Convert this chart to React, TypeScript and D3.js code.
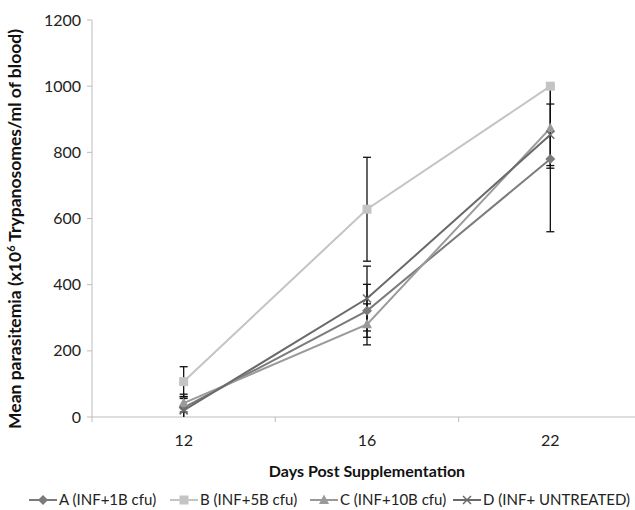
import React from "react";
import * as d3 from "d3";

const days = ["12", "16", "22"];
const seriesNames = [
  "A (INF+1B cfu)",
  "B (INF+5B cfu)",
  "C (INF+10B cfu)",
  "D (INF+ UNTREATED)",
];
const valuesA = [28, 321, 780];
const valuesB = [107, 628, 1000];
const valuesC = [42, 280, 873];
const valuesD = [20, 358, 853];
const errorsA = [33, 80, 220];
const errorsB = [45, 157, 0];
const errorsC = [27, 62, 121];
const errorsD = [36, 98, 93];
const yTicks = [0, 200, 400, 600, 800, 1000, 1200];

const seriesColors = ["#7b7b7b", "#c4c4c4", "#9a9a9a", "#6a6a6a"];
const markerTypes = ["diamond", "square", "triangle", "cross"];

const width = 635;
const height = 510;
const left = 92;
const top = 20;
const bottom = 417;
const font = "Lato, 'Open Sans', sans-serif";

function Marker({ type, x, y, color }: { type: string; x: number; y: number; color: string }) {
  if (type === "square") {
    return <rect x={x - 4.5} y={y - 4.5} width={9} height={9} fill={color} />;
  }
  if (type === "diamond") {
    return <path d={`M${x},${y - 5}L${x + 5},${y}L${x},${y + 5}L${x - 5},${y}Z`} fill={color} />;
  }
  if (type === "triangle") {
    return <path d={`M${x},${y - 5.5}L${x + 5},${y + 4}L${x - 5},${y + 4}Z`} fill={color} />;
  }
  return (
    <path
      d={`M${x - 4},${y - 4}L${x + 4},${y + 4}M${x - 4},${y + 4}L${x + 4},${y - 4}`}
      stroke={color}
      strokeWidth={1.5}
    />
  );
}

export default function App() {
  const x = d3.scaleBand<string>().domain(days).range([left, 642]);
  const y = d3.scaleLinear().domain([0, 1200]).range([bottom, top]);
  const cx = (d: string) => (x(d) as number) + x.bandwidth() / 2;

  const allValues = [valuesA, valuesB, valuesC, valuesD];
  const allErrors = [errorsA, errorsB, errorsC, errorsD];

  const line = d3
    .line<number>()
    .x((_, i) => cx(days[i]))
    .y((d) => y(d));

  const legendX = [29, 170, 310, 453];
  const legendY = 500;

  return (
    <svg
      width={width}
      height={height}
      style={{ position: "absolute", left: 0, top: 0, background: "#fff" }}
      fontFamily={font}
    >
      {/* y axis */}
      <line x1={left} x2={left} y1={top} y2={bottom} stroke="#bdbdbd" />
      {yTicks.map((t) => (
        <g key={t}>
          <line x1={left - 5} x2={left} y1={y(t)} y2={y(t)} stroke="#bdbdbd" />
          <text x={left - 11} y={y(t)} dy="0.35em" textAnchor="end" fontSize={16} fill="#222">
            {t}
          </text>
        </g>
      ))}

      {/* x axis */}
      <line x1={left} x2={width} y1={bottom} y2={bottom} stroke="#bdbdbd" />
      {days.map((d) => (
        <g key={d}>
          <line x1={x(d)} x2={x(d)} y1={bottom} y2={bottom + 5} stroke="#bdbdbd" />
          <text x={cx(d)} y={bottom + 29} textAnchor="middle" fontSize={16} fill="#222">
            {d}
          </text>
        </g>
      ))}

      {/* lines */}
      {allValues.map((vals, s) => (
        <path key={s} d={line(vals) || ""} fill="none" stroke={seriesColors[s]} strokeWidth={2} />
      ))}

      {/* error bars */}
      {allValues.map((vals, s) =>
        vals.map((v, i) => {
          const e = allErrors[s][i];
          if (!e) return null;
          const px = cx(days[i]);
          const hi = y(Math.min(1200, v + e));
          const lo = y(Math.max(0, v - e));
          return (
            <g key={`${s}-${i}`} stroke="#111" strokeWidth={1.3}>
              <line x1={px} x2={px} y1={hi} y2={lo} />
              {v + e <= 1200 && <line x1={px - 4} x2={px + 4} y1={hi} y2={hi} />}
              {v - e >= 0 && <line x1={px - 4} x2={px + 4} y1={lo} y2={lo} />}
            </g>
          );
        })
      )}

      {/* markers */}
      {allValues.map((vals, s) =>
        vals.map((v, i) => (
          <Marker key={`m${s}-${i}`} type={markerTypes[s]} x={cx(days[i])} y={y(v)} color={seriesColors[s]} />
        ))
      )}

      {/* axis titles */}
      <text
        transform={`translate(21,${229}) rotate(-90)`}
        textAnchor="middle"
        fontSize={17.5}
        fontWeight="bold"
        fill="#111"
      >
        Mean parasitemia (x10<tspan dy={-6} fontSize={11}>6</tspan>
        <tspan dy={6}> Trypanosomes/ml of blood)</tspan>
      </text>
      <text x={cx("16")} y={477} textAnchor="middle" fontSize={16} fontWeight="bold" fill="#111">
        Days Post Supplementation
      </text>

      {/* legend */}
      {seriesNames.map((name, s) => (
        <g key={name}>
          <line
            x1={legendX[s]}
            x2={legendX[s] + 28}
            y1={legendY}
            y2={legendY}
            stroke={seriesColors[s]}
            strokeWidth={2}
          />
          <Marker type={markerTypes[s]} x={legendX[s] + 14} y={legendY} color={seriesColors[s]} />
          <text x={legendX[s] + 30} y={legendY} dy="0.35em" fontSize={15} fill="#222">
            {name}
          </text>
        </g>
      ))}
    </svg>
  );
}
